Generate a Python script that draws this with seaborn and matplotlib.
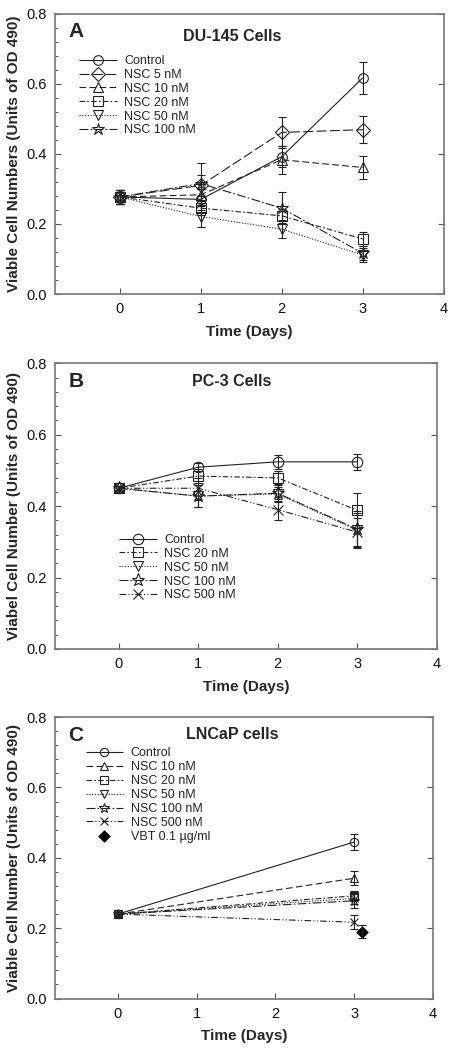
import matplotlib
matplotlib.use("Agg")
import matplotlib.pyplot as plt
import pandas as pd
import seaborn as sns
from matplotlib.ticker import MultipleLocator

# Panel A - DU-145
days_a = [0, 1, 2, 3]
a_labels = ['Control', 'NSC 5 nM', 'NSC 10 nM', 'NSC 20 nM', 'NSC 50 nM', 'NSC 100 nM']
a_values = [
    [0.277, 0.270, 0.392, 0.617],
    [0.277, 0.310, 0.461, 0.469],
    [0.277, 0.283, 0.383, 0.361],
    [0.277, 0.245, 0.223, 0.157],
    [0.277, 0.221, 0.185, 0.111],
    [0.277, 0.315, 0.245, 0.116],
]
a_errors = [
    [0.02, 0.03, 0.03, 0.046],
    [0.02, 0.03, 0.045, 0.038],
    [0.02, 0.03, 0.04, 0.034],
    [0.02, 0.02, 0.02, 0.02],
    [0.02, 0.03, 0.025, 0.02],
    [0.02, 0.06, 0.045, 0.02],
]

# Panel B - PC-3
days_b = [0, 1, 2, 3]
b_labels = ['Control', 'NSC 20 nM', 'NSC 50 nM', 'NSC 100 nM', 'NSC 500 nM']
b_values = [
    [0.450, 0.509, 0.524, 0.524],
    [0.450, 0.484, 0.479, 0.388],
    [0.450, 0.428, 0.434, 0.332],
    [0.450, 0.428, 0.436, 0.335],
    [0.450, 0.450, 0.390, 0.327],
]
b_errors = [
    [0.005, 0.012, 0.02, 0.022],
    [0.005, 0.02, 0.02, 0.05],
    [0.005, 0.03, 0.02, 0.05],
    [0.005, 0.03, 0.025, 0.05],
    [0.005, 0.03, 0.03, 0.04],
]

# Panel C - LNCaP
days_c = [0, 3]
c_labels = ['Control', 'NSC 10 nM', 'NSC 20 nM', 'NSC 50 nM', 'NSC 100 nM', 'NSC 500 nM']
c_values = [
    [0.240, 0.445],
    [0.240, 0.342],
    [0.240, 0.292],
    [0.240, 0.285],
    [0.240, 0.278],
    [0.240, 0.217],
]
c_errors = [
    [0.005, 0.023],
    [0.005, 0.02],
    [0.005, 0.015],
    [0.005, 0.015],
    [0.005, 0.02],
    [0.005, 0.02],
]
vbt_day = [3.1]
vbt_value = [0.19]
vbt_error = [0.018]

# line styles / markers per label
styles = {
    'Control': ('o', (0, ())),
    'NSC 5 nM': ('D', (0, (9, 3))),
    'NSC 10 nM': ('^', (0, (6, 3))),
    'NSC 20 nM': ('s', (0, (5, 2, 1.5, 2))),
    'NSC 50 nM': ('v', (0, (1, 1.5))),
    'NSC 100 nM': ('*', (0, (8, 2, 1.5, 2))),
    'NSC 500 nM': ('x', (0, (6, 2, 1, 2, 1, 2))),
}

sns.set_style("white")
plt.rcParams['font.family'] = ['Liberation Sans', 'DejaVu Sans']

fig = plt.figure(figsize=(4.58, 10.5), dpi=100)
ax_a = fig.add_axes([0.120, 0.720, 0.849, 0.267])
ax_b = fig.add_axes([0.120, 0.382, 0.834, 0.272])
ax_c = fig.add_axes([0.120, 0.049, 0.825, 0.268])

ink = '#222222'


def draw_panel(ax, days, labels, values, errors, msize):
    handles = []
    for lab, vals, errs in zip(labels, values, errors):
        mk, ls = styles[lab]
        df = pd.DataFrame({'day': days, 'value': vals})
        ms = msize * 1.3 if mk == '*' else msize
        sns.lineplot(data=df, x='day', y='value', ax=ax, color=ink, linewidth=0.8,
                     linestyle=ls, marker=mk, markersize=ms, markerfacecolor='none',
                     markeredgecolor=ink, markeredgewidth=0.8, label=lab)
        handles.append(ax.lines[-1])
        ax.errorbar(days, vals, yerr=errs, fmt='none', ecolor=ink, elinewidth=0.8,
                    capsize=3, capthick=0.8)
    return handles


def style_axes(ax, ylabel, letter, title, legend_handles, legend_pos):
    ax.set_xlim(-0.8, 4)
    ax.set_ylim(0, 0.8)
    ax.set_xticks([0, 1, 2, 3, 4])
    ax.set_yticks([0, 0.2, 0.4, 0.6, 0.8])
    ax.set_yticklabels(['0.0', '0.2', '0.4', '0.6', '0.8'])
    ax.yaxis.set_minor_locator(MultipleLocator(0.04))
    ax.tick_params(axis='both', which='major', direction='in', length=4, width=0.8,
                   color='#555555', labelsize=10.5, labelcolor='#111111', pad=6)
    ax.tick_params(axis='y', which='major', left=True, right=True)
    ax.tick_params(axis='y', which='minor', direction='in', left=True, right=False,
                   length=2.5, width=0.7, color='#555555')
    ax.tick_params(axis='x', which='major', bottom=True, top=False)
    for sp in ax.spines.values():
        sp.set_visible(True)
        sp.set_color('#777777')
        sp.set_linewidth(1.2)
    ax.set_xlabel('Time (Days)', fontsize=11, fontweight='bold', labelpad=6)
    ax.set_ylabel(ylabel, fontsize=11, fontweight='bold', labelpad=4)
    ax.text(0.035, 0.935, letter, transform=ax.transAxes, fontsize=15,
            fontweight='bold', va='center', ha='left')
    ax.text(title[1], title[2], title[0], transform=ax.transAxes, fontsize=11.5,
            fontweight='bold', va='center', ha='center')
    ax.legend(handles=legend_handles, loc='upper left', bbox_to_anchor=legend_pos,
              frameon=False, fontsize=9, handlelength=3.0, handletextpad=0.6,
              labelspacing=0.15, borderaxespad=0)


h_a = draw_panel(ax_a, days_a, a_labels, a_values, a_errors, 7)
style_axes(ax_a, 'Viable Cell Numbers (Units of OD 490)', 'A',
           ('DU-145 Cells', 0.457, 0.92), h_a, (0.05, 0.87))

h_b = draw_panel(ax_b, days_b, b_labels, b_values, b_errors, 7.5)
style_axes(ax_b, 'Viabel Cell Number (Units of OD 490)', 'B',
           ('PC-3 Cells', 0.463, 0.937), h_b, (0.155, 0.42))

h_c = draw_panel(ax_c, days_c, c_labels, c_values, c_errors, 6)
df_vbt = pd.DataFrame({'day': vbt_day, 'value': vbt_value})
sns.scatterplot(data=df_vbt, x='day', y='value', ax=ax_c, marker='D', s=35,
                color='black', edgecolor='black', label='VBT 0.1 \u00b5g/ml')
h_c.append(ax_c.collections[-1])
ax_c.errorbar(vbt_day, vbt_value, yerr=vbt_error, fmt='none', ecolor=ink,
              elinewidth=0.8, capsize=3, capthick=0.8)
style_axes(ax_c, 'Viable Cell Number (Units of OD 490)', 'C',
           ('LNCaP cells', 0.47, 0.94), h_c, (0.068, 0.91))

plt.savefig('out.png', dpi=100)
